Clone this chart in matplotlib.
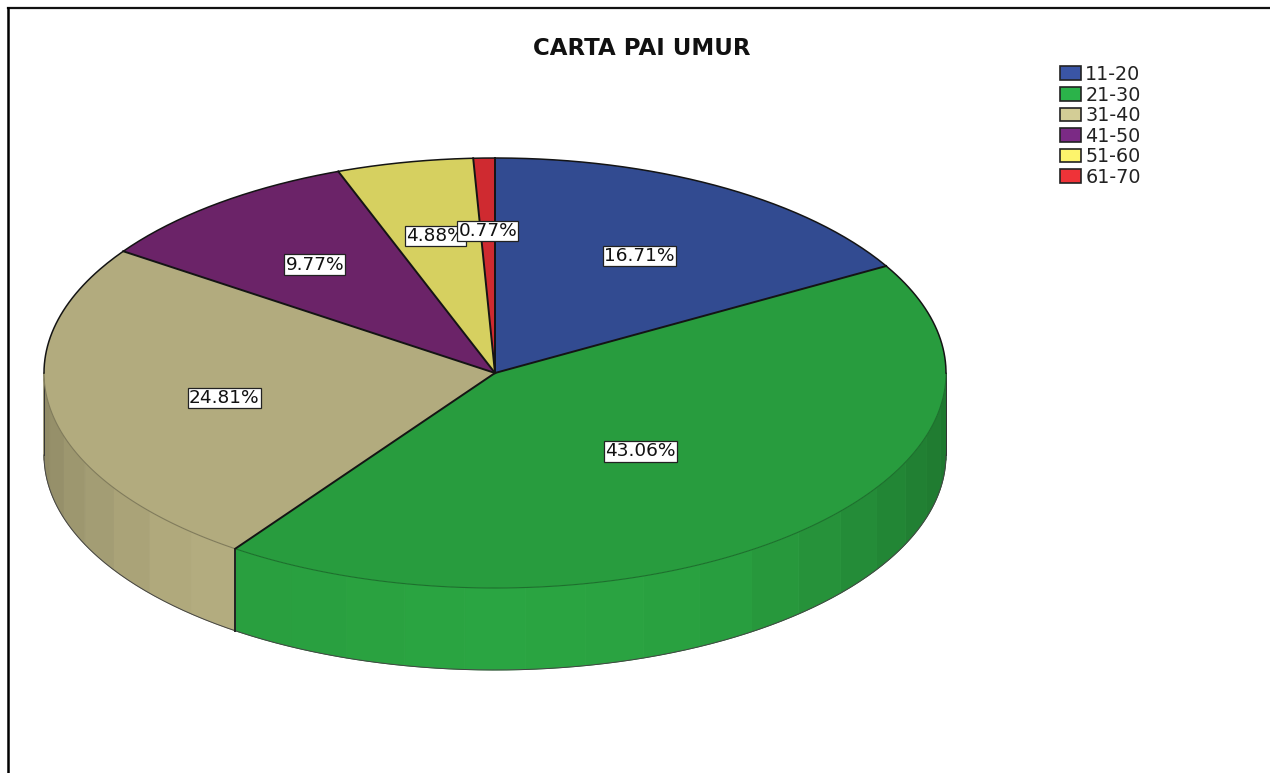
import numpy as np
import matplotlib
matplotlib.use('Agg')
import matplotlib.pyplot as plt
from matplotlib.lines import Line2D
from matplotlib.patches import Patch

# --- DATA ---
age_groups = ['11-20', '21-30', '31-40', '41-50', '51-60', '61-70']
percents = [16.71, 43.06, 24.81, 9.77, 4.88, 0.77]
title = 'CARTA PAI UMUR'

# --- STYLE ---
top_colors = ['#324b91', '#289c3e', '#b2ab7e', '#6b2368', '#d6d060', '#cf2a30']
legend_colors = ['#3a55a5', '#2bb34a', '#d3cd96', '#7b2a85', '#fdf46c', '#ef3338']
label_radius = [0.64, 0.48, 0.61, 0.65, 0.66, 0.67]
W, H = 1270, 773
DEPTH = 82 / 215  # side wall height, in units of the vertical radius
FACET = 7.7       # degrees per shaded strip on the side wall
# wall brightness, by degrees from the front of the pie (minus = right side)
shade_at = [-90, -74, -50, -27, 0, 43, 55, 65, 78, 90]
shade_val = [0.76, 0.80, 0.92, 1.03, 1.06, 1.0, 0.95, 0.90, 0.84, 0.79]

plt.rcParams['font.family'] = ['DejaVu Sans']

fig = plt.figure(figsize=(W / 100, H / 100), dpi=100)

# frame of the original screenshot, only top and left show
fig.add_artist(Line2D([8 / W, 1], [1 - 8 / H, 1 - 8 / H], color='#111111', lw=1.6))
fig.add_artist(Line2D([8 / W, 8 / W], [0, 1 - 8 / H], color='black', lw=1.8))

# axes box is exactly the top ellipse
ax = fig.add_axes([44 / W, 1 - 588 / H, 902 / W, 430 / H])


def shade(color, factor):
    rgb = np.array(matplotlib.colors.to_rgb(color))
    return tuple(np.clip(rgb * factor, 0, 1))


def rim(deg):
    # deg is clockwise from the top of the pie
    t = np.radians(deg)
    return np.sin(t), np.cos(t)


# side wall, only the front half (90 to 270 degrees) can be seen
edges = np.concatenate([[0], np.cumsum(percents) * 3.6])
for i, color in enumerate(top_colors):
    start, stop = max(edges[i], 90), min(edges[i + 1], 270)
    if start >= stop:
        continue
    cuts = 180 + FACET / 2 + FACET * np.arange(-13, 13)
    cuts = cuts[(cuts > start) & (cuts < stop)]
    cuts = np.concatenate([[start], cuts, [stop]])
    for a, b in zip(cuts[:-1], cuts[1:]):
        t = np.linspace(a, b, 12)
        x, y = rim(t)
        c = shade(color, np.interp((a + b) / 2 - 180, shade_at, shade_val))
        ax.fill(np.concatenate([x, x[::-1]]),
                np.concatenate([y, y[::-1] - DEPTH]),
                facecolor=c, edgecolor=c, lw=0.6, clip_on=False, zorder=1)
    # faint line where the wall meets the top
    t = np.linspace(start, stop, 100)
    x, y = rim(t)
    ax.plot(x, y, color=shade(color, 0.72), lw=0.8, clip_on=False, zorder=4)

# outline of the wall
t = np.linspace(90, 270, 300)
x, y = rim(t)
ax.plot(x, y - DEPTH, color='#444444', lw=0.7, clip_on=False, zorder=2)
ax.plot([1, 1], [0, -DEPTH], color='#333333', lw=0.7, clip_on=False, zorder=2)
ax.plot([-1, -1], [0, -DEPTH], color='#333333', lw=0.7, clip_on=False, zorder=2)
for e in edges[1:-1]:
    if 90 < e < 270:
        ex, ey = rim(e)
        ax.plot([ex, ex], [ey, ey - DEPTH], color='#222222', lw=1.4, clip_on=False, zorder=2)

wedges, _ = ax.pie(percents, colors=top_colors, startangle=90, counterclock=False,
                   radius=1, normalize=True,
                   wedgeprops={'edgecolor': 'none', 'linewidth': 0, 'zorder': 3, 'clip_on': False})
ax.set_aspect('auto')
ax.set_xlim(-1, 1)
ax.set_ylim(-1, 1)

# black back rim and spokes on the top face
t = np.linspace(-90, 90, 300)
x, y = rim(t)
ax.plot(x, y, color='#141414', lw=1.1, clip_on=False, zorder=4)
for e in edges[:-1]:
    ex, ey = rim(e)
    ax.plot([0, ex], [0, ey], color='#141414', lw=1.4, clip_on=False, zorder=4)

# value labels in white boxes
mids = (edges[:-1] + edges[1:]) / 2
for p, m, r in zip(percents, mids, label_radius):
    lx, ly = rim(m)
    ax.text(lx * r, ly * r, f'{p:.2f}%', ha='center', va='center_baseline', fontsize=13.3,
            color='#111111', zorder=5,
            bbox={'boxstyle': 'square,pad=0.07', 'facecolor': 'white',
                  'edgecolor': '#222222', 'linewidth': 0.9})

fig.text(642 / W, 1 - 46 / H, title, ha='center', va='center_baseline',
         fontsize=16.5, fontweight='bold', color='#111111')

handles = [Patch(facecolor=c, edgecolor='#222222', linewidth=1.2) for c in legend_colors]
fig.legend(handles, age_groups, loc='upper left', bbox_to_anchor=(1060 / W, 1 - 65 / H),
           frameon=False, fontsize=13.8, handlelength=1.12, handleheight=0.72,
           handletextpad=0.2, labelspacing=0.08, borderpad=0, borderaxespad=0,
           labelcolor='#222222')

fig.savefig('out.png', dpi=100)
